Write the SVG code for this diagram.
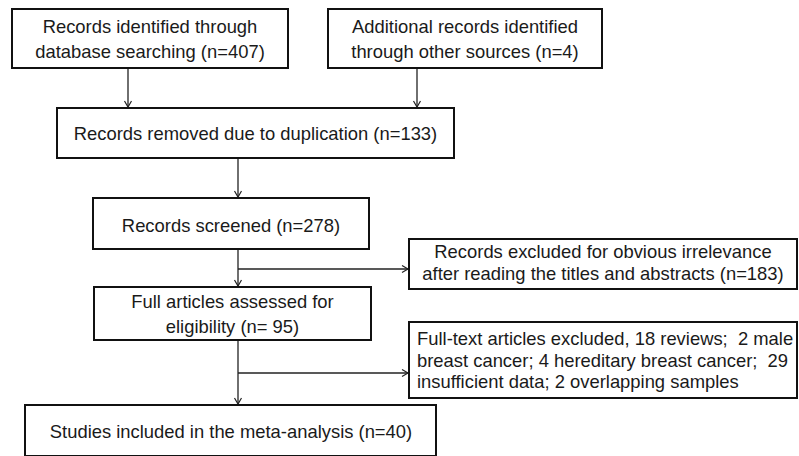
<svg xmlns="http://www.w3.org/2000/svg" width="799" height="456" viewBox="0 0 799 456">
<style>
.box{fill:#fff;stroke:#111;stroke-width:2}
.t{font-family:"Liberation Sans",Arial,sans-serif;font-size:18.4px;fill:#1a1a1a}
.m{text-anchor:middle}
.c{fill:none;stroke:#222;stroke-width:1.3}
</style>
<defs>
<marker id="ah" markerUnits="userSpaceOnUse" markerWidth="10" markerHeight="10" refX="7" refY="4" orient="auto">
<path d="M1,0.5 L7,4 L1,7.5" fill="none" stroke="#222" stroke-width="1.2"/>
</marker>
</defs>
<rect width="799" height="456" fill="#fff"/>
<g id="connectors">
<line class="c" x1="128" y1="68" x2="128" y2="107" marker-end="url(#ah)"/>
<line class="c" x1="417" y1="68" x2="417" y2="107" marker-end="url(#ah)"/>
<line class="c" x1="238" y1="158" x2="238" y2="197" marker-end="url(#ah)"/>
<line class="c" x1="238" y1="249" x2="238" y2="286" marker-end="url(#ah)"/>
<line class="c" x1="238" y1="269" x2="408" y2="269" marker-end="url(#ah)"/>
<line class="c" x1="238" y1="340" x2="238" y2="404" marker-end="url(#ah)"/>
<line class="c" x1="238" y1="373" x2="408" y2="373" marker-end="url(#ah)"/>
</g>
<g id="n1">
<rect class="box" x="12" y="9" width="276" height="59"/>
<text class="t m" x="150" y="33">Records identified through</text>
<text class="t m" x="150" y="58">database searching (n=407)</text>
</g>
<g id="n2">
<rect class="box" x="328" y="9" width="274" height="59"/>
<text class="t m" x="465" y="33">Additional records identified</text>
<text class="t m" x="465" y="58">through other sources (n=4)</text>
</g>
<g id="n3">
<rect class="box" x="57" y="108" width="397" height="50"/>
<text class="t m" x="255.5" y="140">Records removed due to duplication (n=133)</text>
</g>
<g id="n4">
<rect class="box" x="93" y="198" width="276" height="51"/>
<text class="t m" x="231" y="232">Records screened (n=278)</text>
</g>
<g id="n5">
<rect class="box" x="409" y="239" width="388" height="50"/>
<text class="t m" x="603" y="258">Records excluded for obvious irrelevance</text>
<text class="t m" x="603" y="280">after reading the titles and abstracts (n=183)</text>
</g>
<g id="n6">
<rect class="box" x="94" y="287" width="277" height="53"/>
<text class="t m" x="232.5" y="308">Full articles assessed for</text>
<text class="t m" x="232.5" y="333">eligibility (n= 95)</text>
</g>
<g id="n7">
<rect class="box" x="409" y="322" width="388" height="76"/>
<text class="t" x="417" y="345" xml:space="preserve">Full-text articles excluded, 18 reviews;  2 male</text>
<text class="t" x="417" y="367" xml:space="preserve">breast cancer; 4 hereditary breast cancer;  29</text>
<text class="t" x="417" y="388">insufficient data; 2 overlapping samples</text>
</g>
<g id="n8">
<rect class="box" x="25" y="405" width="411" height="51"/>
<text class="t m" x="231" y="438">Studies included in the meta-analysis (n=40)</text>
</g>
</svg>
